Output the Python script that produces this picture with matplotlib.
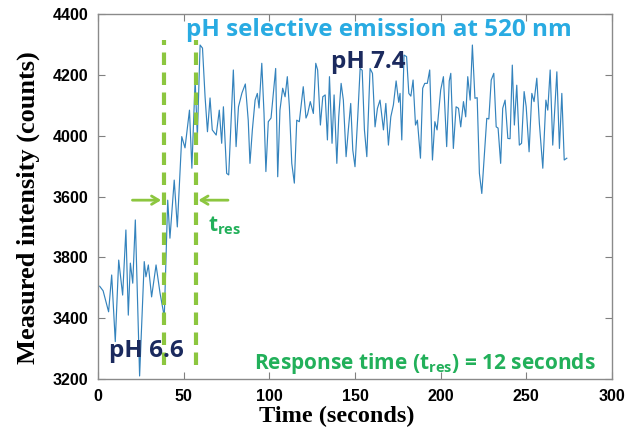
import matplotlib
matplotlib.use("Agg")
import matplotlib.pyplot as plt

# ---- data ----
time_s = [1.0, 3.0, 6.2, 8.0, 10.1, 12.1, 14.4, 16.3, 17.7, 18.9, 20.3, 21.8, 24.3, 27.0, 28.0,
          29.4, 31.3, 33.9, 36.2, 38.7, 40.7, 42.0, 44.5, 46.3, 48.9, 50.8, 53.4, 54.8, 56.7,
          58.0, 59.6, 61.0, 62.5, 63.9, 65.4, 66.7, 69.0, 70.8, 72.2, 73.2, 75.1, 76.3, 79.0,
          80.6, 82.0, 84.0, 86.0, 87.7, 88.7, 90.1, 91.7, 93.0, 94.0, 95.6, 96.9, 98.0, 99.4,
          101.0, 103.7, 104.9, 106.2, 107.8, 109.2, 110.5, 111.7, 113.1, 114.6, 116.0, 117.5,
          119.8, 121.4, 122.3, 123.9, 125.7, 127.1, 128.2, 129.8, 131.2, 132.6, 133.9, 135.1,
          136.6, 137.8, 139.4, 140.5, 141.9, 143.2, 144.8, 146.1, 147.5, 148.7, 150.0, 151.6,
          153.0, 154.2, 155.5, 156.9, 158.8, 160.2, 161.7, 163.1, 164.6, 166.6, 168.0, 169.5,
          170.9, 172.4, 174.0, 175.5, 176.3, 177.3, 178.6, 180.1, 181.4, 182.6, 183.9, 185.3,
          186.4, 188.2, 189.5, 190.7, 192.2, 193.6, 195.2, 196.6, 197.9, 200.0, 201.6, 203.5,
          205.0, 205.9, 207.4, 209.0, 210.4, 211.7, 213.3, 214.6, 215.8, 217.2, 218.5, 220.0,
          221.3, 222.6, 224.0, 225.4, 226.9, 228.1, 229.5, 231.0, 232.4, 233.5, 235.0, 236.2,
          237.6, 239.2, 240.5, 241.8, 243.0, 244.4, 245.9, 247.2, 248.7, 249.9, 251.6, 253.2,
          254.5, 256.1, 257.6, 259.6, 261.4, 262.5, 263.9, 265.4, 267.8, 269.3, 270.7, 272.1,
          273.6]
intensity = [3505, 3490, 3421, 3542, 3323, 3591, 3476, 3690, 3410, 3581, 3515, 3723, 3210, 3586, 3536,
             3575, 3470, 3575, 3483, 3405, 3788, 3663, 3854, 3700, 3997, 3960, 4084, 3893, 4183,
             3997, 4298, 4288, 4128, 4013, 4124, 4019, 4002, 4084, 3975, 4095, 3876, 3871, 4216,
             3964, 4095, 4140, 4170, 4050, 3909, 4019, 4117, 4139, 4091, 4238, 4073, 3882, 4046,
             4058, 4221, 3865, 4084, 4156, 4128, 4194, 4095, 3909, 3844, 4051, 4046,
             4161, 4058, 4070, 4112, 4073, 4238, 4216, 4035, 4128, 4134, 3986, 4194,
             3975, 4134, 3909, 4062, 4172, 4117, 3931, 4019, 4106, 3953, 3898, 4062,
             4221, 4215, 4019, 3931, 4221, 4205, 4029, 4090, 4117, 4019, 4106, 3969,
             4062, 4101, 4180, 4110, 4139, 3986, 4265, 4260, 4139, 4130, 4183, 4035,
             4051, 3926, 4156, 4172, 4172, 4216, 3920, 4046, 4019, 4150, 4194, 3964,
             4180, 4205, 3958, 4095, 4090, 4029, 4112, 4062, 4194, 4117, 4298, 4123,
             4125, 3876, 3810, 3931, 4057, 4055, 4183, 4205, 4029, 4025, 3909, 4090,
             4117, 3991, 3990, 4232, 4035, 4166, 3969, 3975, 4145, 4095, 3947, 4139,
             4112, 4189, 4040, 3893, 4117, 4084, 4216, 3969, 4210, 3958, 4139, 3920,
             3926]

x_ticks = [0, 50, 100, 150, 200, 250, 300]
y_ticks = [3200, 3400, 3600, 3800, 4000, 4200, 4400]
y_tick_labels = ["3200", "3400", "3800", "3600", "4000", "4200", "4400"]
t_start, t_end = 38.5, 57.0

plt.rcParams['mathtext.default'] = 'regular'
fig = plt.figure(figsize=(6.37, 4.34), dpi=100)
ax = fig.add_axes([0.1538, 0.1267, 0.807, 0.841])

ax.plot(time_s, intensity, color="#3483bd", lw=0.85, zorder=2)

ax.set_xlim(0, 300)
ax.set_ylim(3200, 4400)
ax.set_xticks(x_ticks)
ax.set_yticks(y_ticks)
ax.set_yticklabels(y_tick_labels)
for lbl in ax.get_xticklabels() + ax.get_yticklabels():
    lbl.set_fontfamily("Liberation Sans")
    lbl.set_fontweight("bold")
    lbl.set_fontsize(11.5)
ax.tick_params(direction="in", length=5, width=0.8, color="#808080",
               top=True, right=True)
ax.tick_params(axis="y", pad=7)
ax.tick_params(axis="x", pad=7)
for s in ax.spines.values():
    s.set_color("#8a8a8a")
    s.set_linewidth(1.0)

ax.set_xlabel("Time (seconds)", fontfamily="Liberation Serif", fontweight="bold", fontsize=17.5)
ax.set_ylabel("Measured intensity (counts)", fontfamily="Liberation Serif", fontweight="bold", fontsize=19)
ax.xaxis.set_label_coords(0.465, -0.073)
ax.yaxis.set_label_coords(-0.112, 0.47)

green_line = "#8cc63f"
for tx in (t_start, t_end):
    ax.plot([tx, tx], [3246, 4315], color=green_line, lw=3.0,
            linestyle=(0, (3.0, 1.8)), zorder=3)

ax.annotate("", xy=(t_start, 3788), xytext=(18.5, 3788),
            arrowprops=dict(arrowstyle="->,head_length=0.5,head_width=0.3", color=green_line, lw=2))
ax.annotate("", xy=(t_end, 3788), xytext=(77.5, 3788),
            arrowprops=dict(arrowstyle="->,head_length=0.5,head_width=0.3", color=green_line, lw=2))

sans = ["Open Sans", "DejaVu Sans"]
ax.text(164, 4347, "pH selective emission at 520 nm", color="#29abe2", fontsize=17.5,
        fontweight="bold", family=sans, ha="center", va="center")
ax.text(157.5, 4242, "pH 7.4", color="#1b2a5e", fontsize=17.5, fontweight="bold",
        family=sans, ha="center", va="center")
ax.text(28.3, 3292, "pH 6.6", color="#1b2a5e", fontsize=17.5, fontweight="bold",
        family=sans, ha="center", va="center", zorder=4)
ax.text(191, 3252, r"Response time (t$_{res}$) = 12 seconds", color="#22b05a", fontsize=15,
        fontweight="bold", family=sans, ha="center", va="center")
ax.text(74, 3705, r"t$_{res}$", color="#22b05a", fontsize=15, fontweight="bold",
        family=sans, ha="center", va="center")

fig.savefig("out.png", dpi=100)
